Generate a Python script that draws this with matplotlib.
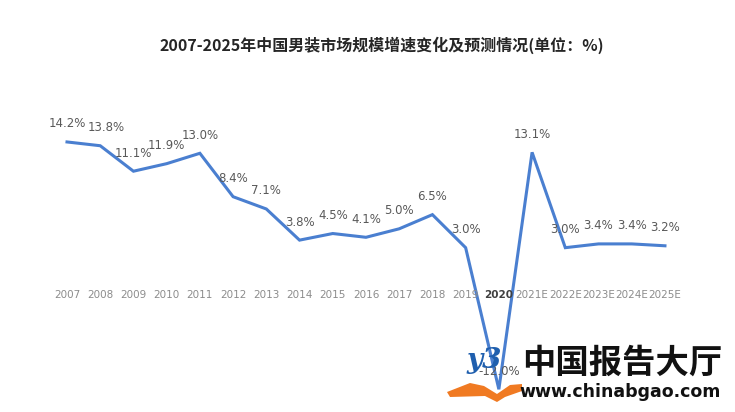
import matplotlib
matplotlib.use("Agg")
import matplotlib.pyplot as plt
from matplotlib.patches import Polygon

plt.rcParams['font.family'] = ['Noto Sans CJK SC', 'DejaVu Sans']

years = ["2007", "2008", "2009", "2010", "2011", "2012", "2013", "2014", "2015",
         "2016", "2017", "2018", "2019", "2020", "2021E", "2022E", "2023E", "2024E", "2025E"]
growth = [14.2, 13.8, 11.1, 11.9, 13.0, 8.4, 7.1, 3.8, 4.5, 4.1, 5.0, 6.5, 3.0,
          -12.0, 13.1, 3.0, 3.4, 3.4, 3.2]
labels = [f"{v:.1f}%" for v in growth]
title = "2007-2025年中国男装市场规模增速变化及预测情况(单位：%)"

fig = plt.figure(figsize=(7.35, 4.12), dpi=100)
ax = fig.add_axes([0, 0, 1, 1])
x = list(range(len(years)))
ax.plot(x, growth, color="#4a7fd0", lw=2.2, solid_joinstyle="miter", zorder=3)

ax.set_xlim(-67 / 33.22, (735 - 67) / 33.22)
ax.set_ylim((276 - 412) / 9.44, 276 / 9.44)
ax.axis("off")

for i, (v, lab) in enumerate(zip(growth, labels)):
    dx = 4 if i == 1 else 0
    ax.annotate(lab, (i, v), xytext=(dx, 13), textcoords="offset points",
                ha="center", va="center", fontsize=8.5, color="#595959",
                family=["DejaVu Sans"], zorder=4)

for i, yr in enumerate(years):
    bold = yr == "2020"
    ax.annotate(yr, (i, 0), xytext=(0, -14), textcoords="offset points",
                ha="center", va="center", fontsize=7.5,
                color="#404040" if bold else "#8c8c8c",
                fontweight="bold" if bold else "normal",
                family=["DejaVu Sans"], zorder=4)

fig.text(0.52, 1 - 45 / 412, title, ha="center", va="center",
         fontsize=11.5, fontweight="bold", color="#262626")

# watermark
fig.text(622 / 735, 1 - 363 / 412, "中国报告大厅", ha="center", va="center",
         fontsize=24, fontweight="bold", color="#111111", zorder=10)
fig.text(620 / 735, 1 - 392 / 412, "www.chinabgao.com", ha="center", va="center",
         fontsize=12.5, fontweight="bold", color="#111111", family=["DejaVu Sans"], zorder=10)
fig.text(484 / 735, 1 - 360 / 412, "y3", ha="center", va="center", fontsize=20,
         fontweight="bold", style="italic", color="#1f5fae", family=["DejaVu Serif"], zorder=10)
book = Polygon([[447 / 735, 1 - 392 / 412], [470 / 735, 1 - 383 / 412], [484 / 735, 1 - 386 / 412],
                [497 / 735, 1 - 394 / 412], [510 / 735, 1 - 385 / 412], [522 / 735, 1 - 384 / 412],
                [522 / 735, 1 - 391 / 412], [505 / 735, 1 - 397 / 412], [497 / 735, 1 - 402 / 412],
                [485 / 735, 1 - 396 / 412], [450 / 735, 1 - 397 / 412]],
               closed=True, transform=fig.transFigure, facecolor="#f07a22", edgecolor="none", zorder=9)
fig.patches.append(book)

fig.savefig("out.png", dpi=100)
